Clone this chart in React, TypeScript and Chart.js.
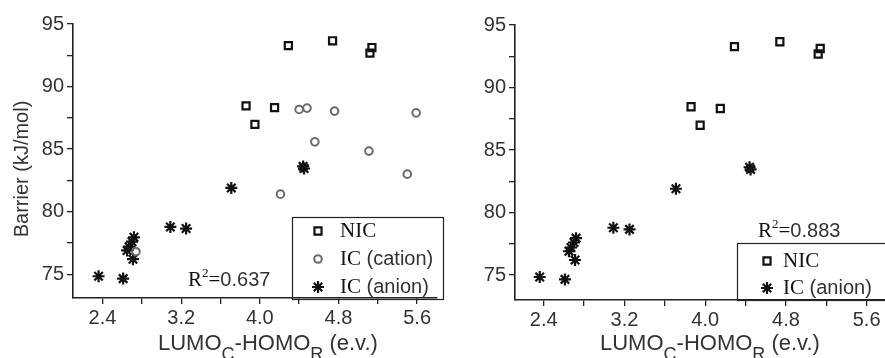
import React, { useEffect, useRef } from 'react';
import { Chart, registerables } from 'chart.js';

Chart.register(...registerables);

// ---------- data ----------
const nicX = [4.29, 4.74, 5.14, 5.12, 3.86, 4.15, 3.95];
const nicY = [93.27, 93.66, 93.12, 92.68, 88.46, 88.32, 86.98];

const cationX = [4.40, 4.48, 4.76, 5.59, 4.56, 5.11, 5.50, 4.21, 2.74];
const cationY = [88.17, 88.28, 88.04, 87.9, 85.58, 84.84, 83.0, 81.4, 76.8];

const anionX = [2.36, 2.61, 4.44, 4.45, 3.71, 3.09, 3.25, 2.72, 2.70, 2.67, 2.65, 2.71];
const anionY = [74.84, 74.65, 83.62, 83.45, 81.9, 78.78, 78.65, 77.95, 77.6, 77.2, 76.9, 76.2];

const xTickValues = [2.4, 3.2, 4.0, 4.8, 5.6];
const yTickValues = [75, 80, 85, 90, 95];

const seriesNames = ['NIC', 'IC (cation)', 'IC (anion)'];
const r2Left = '0.637';
const r2Right = '0.883';

const SANS = '"Liberation Sans", Arial, Helvetica, sans-serif';
const SERIF = '"Liberation Serif", "Times New Roman", serif';
const TEXT = '#333';
const AXIS = '#222';

type Kind = 'rect' | 'circle' | 'star';

function pts(xs: number[], ys: number[]) {
  return xs.map((x, i) => ({ x, y: ys[i] }));
}

const styles: Record<Kind, any> = {
  rect: { pointStyle: 'rect', pointRadius: 5, borderColor: '#111', backgroundColor: 'rgba(0,0,0,0)', pointBorderWidth: 2.2 },
  circle: { pointStyle: 'circle', pointRadius: 3.8, borderColor: '#6a6a6a', backgroundColor: 'rgba(0,0,0,0)', pointBorderWidth: 2 },
  star: { pointStyle: 'star', pointRadius: 6, borderColor: '#111', backgroundColor: '#111', pointBorderWidth: 2.2 },
};

function drawSymbol(ctx: CanvasRenderingContext2D, kind: Kind, x: number, y: number) {
  const s = styles[kind];
  ctx.save();
  ctx.strokeStyle = s.borderColor;
  ctx.lineWidth = s.pointBorderWidth;
  const r = s.pointRadius;
  ctx.beginPath();
  if (kind === 'rect') {
    const h = r / Math.SQRT2;
    ctx.rect(x - h, y - h, 2 * h, 2 * h);
  } else if (kind === 'circle') {
    ctx.arc(x, y, r, 0, Math.PI * 2);
  } else {
    for (let k = 0; k < 4; k++) {
      const a = (k * Math.PI) / 4;
      ctx.moveTo(x - Math.cos(a) * r, y - Math.sin(a) * r);
      ctx.lineTo(x + Math.cos(a) * r, y + Math.sin(a) * r);
    }
  }
  ctx.stroke();
  ctx.restore();
}

type Deco = {
  yTitle: { x: number; y: number } | null;
  xTitle: { x: number; y: number };
  legend: { x: number; y: number; w: number; h: number; symX: number; textX: number; rows: { kind: Kind; name: string; y: number }[] };
  r2: { x: number; y: number; value: string };
};

function decoPlugin(d: Deco) {
  return {
    id: 'deco',
    afterDraw(chart: any) {
      const ctx: CanvasRenderingContext2D = chart.ctx;
      ctx.save();
      // y title
      if (d.yTitle) {
        ctx.save();
        ctx.translate(d.yTitle.x, d.yTitle.y);
        ctx.rotate(-Math.PI / 2);
        ctx.font = `20px ${SANS}`;
        ctx.fillStyle = TEXT;
        ctx.textAlign = 'center';
        ctx.textBaseline = 'middle';
        ctx.fillText('Barrier (kJ/mol)', 0, 0);
        ctx.restore();
      }
      // x title with subscripts
      const parts: [string, number, number][] = [
        ['LUMO', 0, 22],
        ['C', 10, 18],
        ['-HOMO', 0, 22],
        ['R', 10, 18],
        [' (e.v.)', 0, 22],
      ];
      let tx = d.xTitle.x;
      ctx.fillStyle = TEXT;
      ctx.textAlign = 'left';
      ctx.textBaseline = 'alphabetic';
      for (const [t, dy, fs] of parts) {
        ctx.font = `${fs}px ${SANS}`;
        ctx.fillText(t, tx, d.xTitle.y + dy);
        tx += ctx.measureText(t).width;
      }
      // legend box
      const L = d.legend;
      ctx.strokeStyle = AXIS;
      ctx.lineWidth = 1.2;
      ctx.strokeRect(L.x + 0.5, L.y + 0.5, L.w, L.h);
      for (const row of L.rows) {
        drawSymbol(ctx, row.kind, L.symX, row.y);
        ctx.textBaseline = 'middle';
        ctx.textAlign = 'left';
        const sp = row.name.indexOf(' ');
        const first = sp < 0 ? row.name : row.name.slice(0, sp);
        const rest = sp < 0 ? '' : row.name.slice(sp);
        ctx.font = `21px ${SERIF}`;
        ctx.fillStyle = '#111';
        ctx.fillText(first, L.textX, row.y);
        const w1 = ctx.measureText(first).width;
        if (rest) {
          ctx.font = `20px ${SANS}`;
          ctx.fillStyle = TEXT;
          ctx.fillText(rest, L.textX + w1, row.y);
        }
      }
      // R^2
      ctx.textBaseline = 'alphabetic';
      ctx.textAlign = 'left';
      let rx = d.r2.x;
      ctx.font = `21px ${SERIF}`;
      ctx.fillStyle = '#111';
      ctx.fillText('R', rx, d.r2.y);
      rx += ctx.measureText('R').width;
      ctx.font = `13px ${SERIF}`;
      ctx.fillText('2', rx, d.r2.y - 9);
      rx += ctx.measureText('2').width;
      ctx.font = `21px ${SERIF}`;
      ctx.fillText('=', rx, d.r2.y);
      rx += ctx.measureText('=').width;
      ctx.font = `20px ${SANS}`;
      ctx.fillStyle = TEXT;
      ctx.fillText(d.r2.value, rx, d.r2.y);
      ctx.restore();
    },
  };
}

type Cfg = {
  kinds: Kind[];
  xMin: number;
  xMax: number;
  yMin: number;
  yMax: number;
  yAxisWidth: number;
  top: number;
  right: number;
  xAxisHeight: number;
  deco: Deco;
};

function near(v: number, list: number[]) {
  return list.some((t) => Math.abs(t - v) < 1e-6);
}

function build(canvas: HTMLCanvasElement, cfg: Cfg) {
  const all: Record<Kind, { x: number; y: number }[]> = {
    rect: pts(nicX, nicY),
    circle: pts(cationX, cationY),
    star: pts(anionX, anionY),
  };
  const labels: Record<Kind, string> = { rect: seriesNames[0], circle: seriesNames[1], star: seriesNames[2] };
  const datasets = cfg.kinds.map((k) => ({
    label: labels[k],
    data: all[k],
    showLine: false,
    ...styles[k],
  }));
  const tickFont = { family: SANS, size: 20 };
  return new Chart(canvas, {
    type: 'scatter',
    data: { datasets },
    options: {
      animation: false,
      responsive: false,
      maintainAspectRatio: false,
      layout: { padding: { left: 0, top: cfg.top, right: cfg.right, bottom: 0 } },
      plugins: { legend: { display: false }, tooltip: { enabled: false } },
      scales: {
        x: {
          type: 'linear',
          min: cfg.xMin,
          max: cfg.xMax,
          afterFit: (s: any) => {
            s.height = cfg.xAxisHeight;
          },
          grid: { display: true, drawOnChartArea: false, drawTicks: true, tickLength: 6, color: AXIS, lineWidth: 1.3 },
          border: { display: true, color: AXIS, width: 1.6 },
          ticks: {
            stepSize: 0.4,
            includeBounds: false,
            autoSkip: false,
            maxRotation: 0,
            padding: 2,
            color: TEXT,
            font: tickFont,
            callback: (v: any) => (near(Number(v), xTickValues) ? Number(v).toFixed(1) : ''),
          },
        },
        y: {
          type: 'linear',
          min: cfg.yMin,
          max: cfg.yMax,
          afterFit: (s: any) => {
            s.width = cfg.yAxisWidth;
          },
          grid: { display: true, drawOnChartArea: false, drawTicks: true, tickLength: 6, color: AXIS, lineWidth: 1.3 },
          border: { display: true, color: AXIS, width: 1.6 },
          ticks: {
            stepSize: 2.5,
            includeBounds: false,
            autoSkip: false,
            padding: 3,
            color: TEXT,
            font: tickFont,
            callback: (v: any) => (near(Number(v), yTickValues) ? String(Math.round(Number(v))) : ''),
          },
        },
      },
    },
    plugins: [decoPlugin(cfg.deco)],
  } as any);
}

const leftCfg: Cfg = {
  kinds: ['rect', 'circle', 'star'],
  xMin: 2.1,
  xMax: 5.8,
  yMin: 73.1,
  yMax: 95,
  yAxisWidth: 73,
  top: 24,
  right: 2,
  xAxisHeight: 60,
  deco: {
    yTitle: { x: 22, y: 169 },
    xTitle: { x: 158, y: 350 },
    legend: {
      x: 292,
      y: 217,
      w: 151,
      h: 82,
      symX: 318,
      textX: 340,
      rows: [
        { kind: 'rect', name: seriesNames[0], y: 231 },
        { kind: 'circle', name: seriesNames[1], y: 259 },
        { kind: 'star', name: seriesNames[2], y: 287 },
      ],
    },
    r2: { x: 188, y: 286, value: r2Left },
  },
};

const rightCfg: Cfg = {
  kinds: ['rect', 'star'],
  xMin: 2.115,
  xMax: 5.8,
  yMin: 73.0,
  yMax: 95,
  yAxisWidth: 70,
  top: 25,
  right: 5,
  xAxisHeight: 58,
  deco: {
    yTitle: null,
    xTitle: { x: 155, y: 350 },
    legend: {
      x: 292,
      y: 243,
      w: 170,
      h: 57,
      symX: 322,
      textX: 338,
      rows: [
        { kind: 'rect', name: seriesNames[0], y: 261 },
        { kind: 'star', name: seriesNames[2], y: 288 },
      ],
    },
    r2: { x: 313, y: 237, value: r2Right },
  },
};

export default function App() {
  const leftRef = useRef<HTMLCanvasElement | null>(null);
  const rightRef = useRef<HTMLCanvasElement | null>(null);
  useEffect(() => {
    const a = build(leftRef.current as HTMLCanvasElement, leftCfg);
    const b = build(rightRef.current as HTMLCanvasElement, rightCfg);
    return () => {
      a.destroy();
      b.destroy();
    };
  }, []);
  return (
    <div style={{ position: 'absolute', left: 0, top: 0, width: 885, height: 358, overflow: 'hidden', background: '#fff' }}>
      <canvas ref={leftRef} width={445} height={358} style={{ position: 'absolute', left: 0, top: 0, width: 445, height: 358 }} />
      <canvas ref={rightRef} width={450} height={358} style={{ position: 'absolute', left: 445, top: 0, width: 450, height: 358 }} />
    </div>
  );
}
